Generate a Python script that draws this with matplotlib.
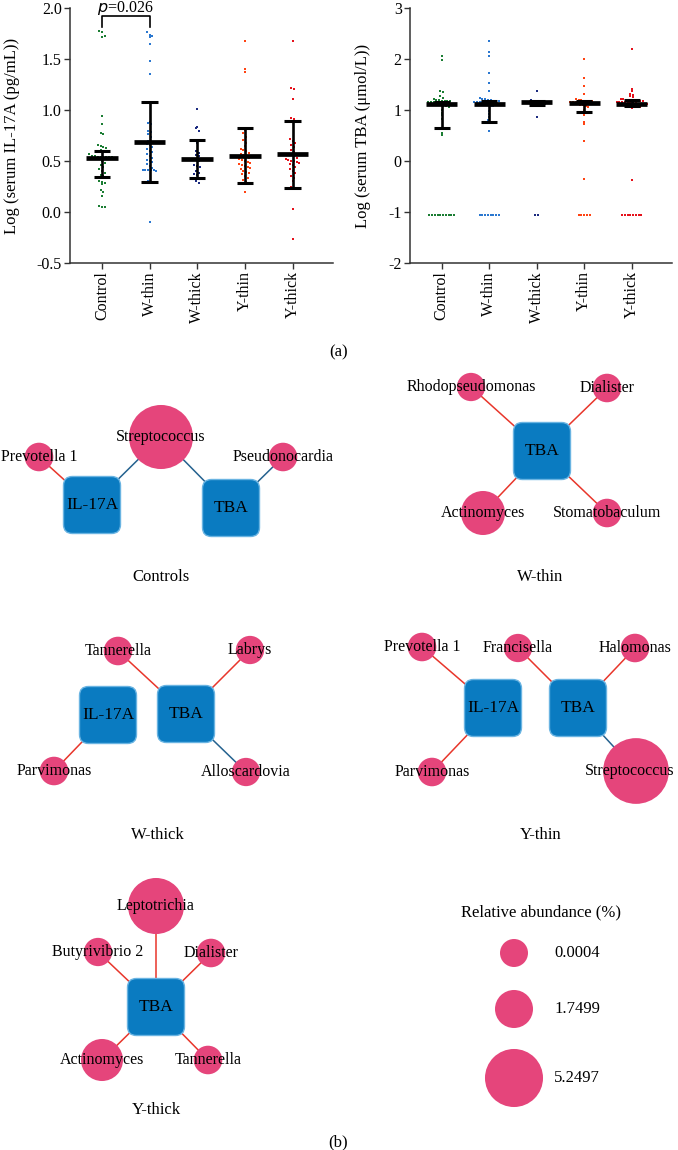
"""
Serum IL-17A / TBA by group (a) and taxa correlation networks (b).
Output: out.png, 678 x 1150 px.
"""
import numpy as np
import matplotlib
matplotlib.use("Agg")
import matplotlib.pyplot as plt
from matplotlib.patches import Circle, FancyBboxPatch

plt.rcParams["font.family"] = ["Liberation Serif", "DejaVu Serif"]
plt.rcParams["axes.unicode_minus"] = False

# ── (a) data ─────────────────────────────────────────────────────────────────
GROUPS = ["Control", "W-thin", "W-thick", "Y-thin", "Y-thick"]

il17_control = [1.77, 1.76, 1.73, 1.72, 0.94, 0.86, 0.77, 0.76, 0.66, 0.65, 0.64,
                0.63, 0.61, 0.59, 0.57, 0.55, 0.55, 0.54, 0.54, 0.54, 0.54, 0.54,
                0.54, 0.53, 0.52, 0.50, 0.48, 0.46, 0.44, 0.42, 0.40, 0.38, 0.36,
                0.35, 0.30, 0.29, 0.28, 0.27, 0.22, 0.20, 0.16, 0.06, 0.05, 0.05]
il17_wthin = [1.76, 1.74, 1.73, 1.72, 1.65, 1.48, 1.35, 0.88, 0.87, 0.86, 0.79,
              0.78, 0.76, 0.74, 0.70, 0.68, 0.67, 0.66, 0.64, 0.62, 0.60, 0.59,
              0.57, 0.55, 0.53, 0.51, 0.50, 0.49, 0.47, 0.45, 0.43, 0.41, 0.41,
              0.41, 0.41, 0.41, 0.40, 0.30, 0.28, -0.10]
il17_wthick = [1.01, 0.83, 0.82, 0.79, 0.68, 0.60, 0.58, 0.56, 0.55, 0.52, 0.50,
               0.46, 0.45, 0.44, 0.40, 0.38, 0.37, 0.36, 0.33, 0.30, 0.28]
il17_ythin = [1.68, 1.40, 1.37, 0.80, 0.77, 0.74, 0.71, 0.68, 0.65, 0.62, 0.61,
              0.60, 0.58, 0.57, 0.56, 0.54, 0.53, 0.52, 0.51, 0.50, 0.49, 0.48,
              0.47, 0.46, 0.45, 0.44, 0.43, 0.42, 0.40, 0.39, 0.38, 0.37, 0.35,
              0.33, 0.31, 0.29, 0.20]
il17_ythick = [1.68, 1.22, 1.21, 1.11, 0.92, 0.91, 0.72, 0.70, 0.68, 0.66, 0.64,
               0.61, 0.59, 0.57, 0.56, 0.55, 0.53, 0.52, 0.51, 0.50, 0.50, 0.49,
               0.48, 0.47, 0.46, 0.44, 0.42, 0.40, 0.38, 0.35, 0.33, 0.30, 0.25,
               0.24, 0.03, -0.26]
il17_median = [0.53, 0.69, 0.52, 0.55, 0.57]
il17_q1 = [0.34, 0.29, 0.33, 0.28, 0.24]
il17_q3 = [0.60, 1.08, 0.71, 0.82, 0.89]

tba_control = [2.05, 1.98, 1.38, 1.36, 1.28, 1.24, 1.22, 1.20, 1.19, 1.18, 1.18,
               1.17, 1.17, 1.16, 1.16, 1.15, 1.15, 1.14, 1.14, 1.13, 1.13, 1.12,
               1.12, 1.11, 1.10, 1.10, 1.09, 1.08, 1.07, 1.05, 1.00, 0.95, 0.90,
               0.82, 0.55, 0.51, -1.05, -1.05, -1.05, -1.05, -1.05, -1.05, -1.05,
               -1.05, -1.05, -1.05]
tba_wthin = [2.36, 2.13, 2.05, 1.73, 1.53, 1.38, 1.23, 1.22, 1.21, 1.20, 1.19,
             1.18, 1.18, 1.17, 1.16, 1.16, 1.15, 1.15, 1.14, 1.14, 1.13, 1.13,
             1.12, 1.12, 1.11, 1.11, 1.10, 1.09, 1.08, 1.07, 0.98, 0.92, 0.86,
             0.80, 0.76, 0.75, 0.59, -1.05, -1.05, -1.05, -1.05, -1.05, -1.05,
             -1.05, -1.05]
tba_wthick = [1.38, 1.19, 1.18, 1.18, 1.17, 1.17, 1.16, 1.16, 1.15, 1.15, 1.14,
              1.13, 1.12, 1.10, 1.07, 0.87, -1.05, -1.05]
tba_ythin = [2.00, 1.63, 1.47, 1.32, 1.22, 1.20, 1.19, 1.18, 1.18, 1.17, 1.17,
             1.16, 1.16, 1.15, 1.15, 1.14, 1.14, 1.13, 1.13, 1.12, 1.12, 1.11,
             1.10, 1.09, 1.08, 1.05, 1.00, 0.90, 0.76, 0.72, 0.40, -0.36, -1.05,
             -1.05, -1.05, -1.05, -1.05]
tba_ythick = [2.20, 1.41, 1.38, 1.32, 1.30, 1.28, 1.25, 1.22, 1.21, 1.20, 1.19,
              1.19, 1.18, 1.18, 1.17, 1.17, 1.16, 1.16, 1.15, 1.15, 1.14, 1.14,
              1.13, 1.13, 1.12, 1.12, 1.11, 1.11, 1.10, 1.10, 1.09, 1.08, 1.07,
              1.06, 1.05, 1.03, -0.37, -1.05, -1.05, -1.05, -1.05, -1.05, -1.05,
              -1.05, -1.05]
tba_median = [1.11, 1.11, 1.15, 1.13, 1.11]
tba_q1 = [0.64, 0.76, 1.09, 0.97, 1.07]
tba_q3 = [1.16, 1.17, 1.17, 1.17, 1.19]

P_TEXT = "=0.026"

# ── (b) data ─────────────────────────────────────────────────────────────────
controls_taxa = ["Prevotella 1", "Streptococcus", "Pseudonocardia"]
controls_abund = [0.1, 6.3, 0.1]
controls_links = [("Prevotella 1", "IL-17A", "+"), ("Streptococcus", "IL-17A", "-"),
                  ("Streptococcus", "TBA", "-"), ("Pseudonocardia", "TBA", "-")]

wthin_taxa = ["Rhodopseudomonas", "Dialister", "Actinomyces", "Stomatobaculum"]
wthin_abund = [0.05, 0.1, 2.8, 0.1]
wthin_links = [("Rhodopseudomonas", "TBA", "+"), ("Dialister", "TBA", "+"),
               ("Actinomyces", "TBA", "+"), ("Stomatobaculum", "TBA", "+")]

wthick_taxa = ["Tannerella", "Labrys", "Parvimonas", "Alloscardovia"]
wthick_abund = [0.1, 0.05, 0.1, 0.05]
wthick_links = [("Tannerella", "TBA", "+"), ("Labrys", "TBA", "+"),
                ("Parvimonas", "IL-17A", "+"), ("Alloscardovia", "TBA", "-")]

ythin_taxa = ["Prevotella 1", "Francisella", "Halomonas", "Parvimonas", "Streptococcus"]
ythin_abund = [0.1, 0.05, 0.1, 0.1, 6.6]
ythin_links = [("Prevotella 1", "IL-17A", "+"), ("Parvimonas", "IL-17A", "+"),
               ("Francisella", "TBA", "+"), ("Halomonas", "TBA", "+"),
               ("Streptococcus", "TBA", "-")]

ythick_taxa = ["Leptotrichia", "Butyrivibrio 2", "Dialister", "Actinomyces", "Tannerella"]
ythick_abund = [4.9, 0.05, 0.1, 2.45, 0.1]
ythick_links = [("Leptotrichia", "TBA", "+"), ("Butyrivibrio 2", "TBA", "+"),
                ("Dialister", "TBA", "+"), ("Actinomyces", "TBA", "+"),
                ("Tannerella", "TBA", "+")]

LEGEND_ABUND = [0.0004, 1.7499, 5.2497]

# ── Style / layout ───────────────────────────────────────────────────────────
GROUP_COLORS = ["#1b7d33", "#2b78d0", "#1c2b80", "#ff4312", "#e5121c"]
PINK = "#e5457b"
BOX = "#0a7bc1"
BOX_EDGE = "#6ab4e2"
POS_EDGE = "#e8362b"
NEG_EDGE = "#25628f"

# node centres in figure pixels (y down)
LAYOUT = {
    "Controls": {"title": (161, 577), "Prevotella 1": (39, 457), "Streptococcus": (161, 437),
                 "Pseudonocardia": (283, 457), "IL-17A": (92, 505), "TBA": (231, 508)},
    "W-thin": {"title": (540, 577), "Rhodopseudomonas": (471, 387), "Dialister": (607, 388),
               "TBA": (542, 451), "Actinomyces": (483, 513), "Stomatobaculum": (607, 513)},
    "W-thick": {"title": (158, 835), "Tannerella": (118, 651), "Labrys": (250, 650),
                "IL-17A": (108, 715), "TBA": (186, 714), "Parvimonas": (54, 771),
                "Alloscardovia": (246, 772)},
    "Y-thin": {"title": (541, 835), "Prevotella 1": (422, 647), "Francisella": (518, 648),
               "Halomonas": (635, 648), "IL-17A": (493, 708), "TBA": (578, 708),
               "Parvimonas": (432, 772), "Streptococcus": (636, 771)},
    "Y-thick": {"title": (156, 1110), "Leptotrichia": (156, 906), "Butyrivibrio 2": (98, 952),
                "Dialister": (211, 953), "TBA": (156, 1007), "Actinomyces": (102, 1060),
                "Tannerella": (208, 1060)},
}
# label nudges where a text would run past the figure edge
LABEL_SHIFT = {("Y-thin", "Streptococcus"): -6}


def node_radius(a):
    return 14.0 + 2.86 * a


def swarm(vals, bin_h, step):
    vals = np.asarray(vals)
    off = np.zeros(len(vals))
    bins = np.round(vals / bin_h).astype(int)
    for b in np.unique(bins):
        idx = np.where(bins == b)[0]
        n = len(idx)
        ks = np.arange(n) - (n - 1) / 2.0
        off[idx] = ks * step
    return off


def dot_panel(ax, groups, med, q1, q3, ylim, yticks, yticklabels, ylabel, bin_h):
    for i, (vals, col) in enumerate(zip(groups, GROUP_COLORS)):
        off = swarm(vals, bin_h, 0.058)
        ax.scatter(i + off, vals, s=4.2, marker="s", color=col, linewidths=0, zorder=2)
        ax.plot([i, i], [q1[i], q3[i]], color="black", lw=1.9, zorder=3,
                solid_capstyle="butt")
        ax.plot([i - 0.33, i + 0.33], [med[i], med[i]], color="black", lw=3.4,
                zorder=3, solid_capstyle="butt")
        for q in (q1[i], q3[i]):
            ax.plot([i - 0.17, i + 0.17], [q, q], color="black", lw=2.2, zorder=3,
                    solid_capstyle="butt")
    ax.set_xlim(-0.67, 4.85)
    ax.set_ylim(*ylim)
    ax.set_yticks(yticks)
    ax.set_yticklabels(yticklabels)
    ax.set_xticks(range(len(GROUPS)))
    ax.set_xticklabels(GROUPS, rotation=90, fontsize=11.5)
    ax.set_ylabel(ylabel, fontsize=12)
    for s in ("top", "right"):
        ax.spines[s].set_visible(False)
    for s in ("left", "bottom"):
        ax.spines[s].set_linewidth(1.1)
        ax.spines[s].set_color("#333333")
    ax.tick_params(direction="out", length=4, width=1.0, color="#333333",
                   labelsize=11.5, pad=2)
    ax.set_facecolor("none")


def draw_network(ax, name, taxa, abund, links):
    pos = LAYOUT[name]
    for src, dst, sign in links:
        (x0, y0), (x1, y1) = pos[src], pos[dst]
        ax.plot([x0, x1], [y0, y1], color=POS_EDGE if sign == "+" else NEG_EDGE,
                lw=1.1, zorder=1)
    for hub in ("IL-17A", "TBA"):
        if hub not in pos:
            continue
        x, y = pos[hub]
        w, p = 57, 9
        ax.add_patch(FancyBboxPatch((x - w / 2 + p, y - w / 2 + p), w - 2 * p, w - 2 * p,
                                    boxstyle=f"round,pad={p}", facecolor=BOX,
                                    edgecolor=BOX_EDGE, linewidth=1.0, zorder=2))
        ax.text(x, y, hub, ha="center", va="center", fontsize=12.5, zorder=5)
    for t, a in zip(taxa, abund):
        x, y = pos[t]
        ax.add_patch(Circle((x, y), node_radius(a), facecolor=PINK, edgecolor="none",
                            zorder=3))
        ax.text(x + LABEL_SHIFT.get((name, t), 0), y, t, ha="center", va="center",
                fontsize=11.5, zorder=5)
    tx, ty = pos["title"]
    ax.text(tx, ty, name, ha="center", va="center", fontsize=12)


fig = plt.figure(figsize=(6.78, 11.5), dpi=100)
fig.patch.set_facecolor("white")

net = fig.add_axes([0, 0, 1, 1], zorder=0)
net.set_xlim(0, 678)
net.set_ylim(1150, 0)
net.axis("off")

ax1 = fig.add_axes([70 / 678, 1 - 263 / 1150, 263 / 678, 255 / 1150], zorder=1)
ax2 = fig.add_axes([410 / 678, 1 - 263 / 1150, 262 / 678, 255 / 1150], zorder=1)

dot_panel(ax1, [il17_control, il17_wthin, il17_wthick, il17_ythin, il17_ythick],
          il17_median, il17_q1, il17_q3, (-0.5, 2.0),
          [-0.5, 0.0, 0.5, 1.0, 1.5, 2.0], ["-0.5", "0.0", "0.5", "1.0", "1.5", "2.0"],
          "Log (serum IL-17A (pg/mL))", 0.05)
dot_panel(ax2, [tba_control, tba_wthin, tba_wthick, tba_ythin, tba_ythick],
          tba_median, tba_q1, tba_q3, (-2, 3),
          [-2, -1, 0, 1, 2, 3], ["-2", "-1", "0", "1", "2", "3"],
          "Log (serum TBA (\u03bcmol/L))", 0.06)
ax1.yaxis.set_label_coords(-0.19, 0.5)
ax2.yaxis.set_label_coords(-0.15, 0.5)

# significance bracket
ax1.plot([0, 0, 1, 1], [1.81, 1.92, 1.92, 1.81], color="black", lw=1.2,
         clip_on=False)
ax1.text(0.5, 1.962, "$\\it{p}$" + P_TEXT, ha="center", va="baseline", fontsize=11.5,
         clip_on=False)

net.text(339, 352, "(a)", ha="center", va="center", fontsize=12)

draw_network(net, "Controls", controls_taxa, controls_abund, controls_links)
draw_network(net, "W-thin", wthin_taxa, wthin_abund, wthin_links)
draw_network(net, "W-thick", wthick_taxa, wthick_abund, wthick_links)
draw_network(net, "Y-thin", ythin_taxa, ythin_abund, ythin_links)
draw_network(net, "Y-thick", ythick_taxa, ythick_abund, ythick_links)

# size legend
net.text(541, 912, "Relative abundance (%)", ha="center", va="center", fontsize=12)
for a, ly in zip(LEGEND_ABUND, (953, 1009, 1078)):
    net.add_patch(Circle((514, ly), node_radius(a), facecolor=PINK, edgecolor="none"))
    net.text(554, ly, f"{a:.4f}", ha="left", va="center", fontsize=12)

net.text(338, 1142, "(b)", ha="center", va="center", fontsize=12)

fig.savefig("out.png", dpi=100, facecolor="white")
